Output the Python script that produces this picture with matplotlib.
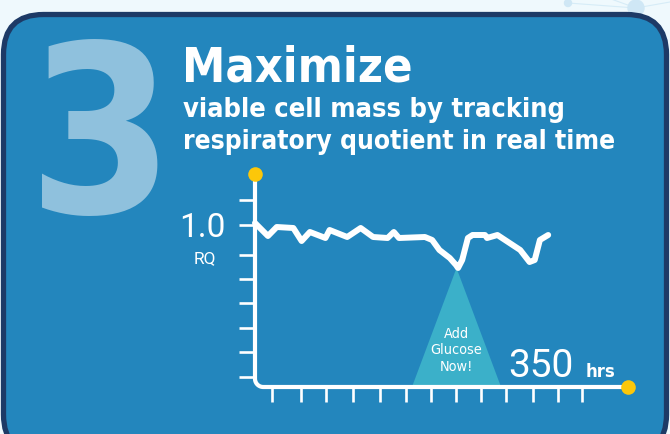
import numpy as np
import matplotlib
matplotlib.use("Agg")
import matplotlib.pyplot as plt
from matplotlib.patches import FancyBboxPatch, Polygon, Circle

# ---------------- data ----------------
hours = [0, 12.5, 21, 37, 45, 53, 68, 72, 89, 102, 114, 128, 134, 139,
         164, 171, 178, 188, 194, 196, 200, 205.5, 210, 222, 224, 234,
         256, 265, 270, 275, 283]
rq = [1.008, 0.956, 0.992, 0.988, 0.936, 0.972, 0.948, 0.98, 0.952, 0.988,
      0.952, 0.948, 0.972, 0.948,
      0.952, 0.94, 0.90, 0.868, 0.84, 0.828, 0.86, 0.948, 0.96, 0.96,
      0.948, 0.96, 0.90, 0.852, 0.86, 0.94, 0.96]
y_ticks = [1.10, 1.00, 0.88, 0.784, 0.688, 0.588, 0.492, 0.392]
x_ticks = [16, 44, 69, 95, 121, 146, 170, 194, 218, 242, 268, 292, 316]
glucose_hour = 194.5
glucose_rq = 0.828
axis_rq = 0.352
axis_top_rq = 1.204
axis_end_hr = 360
title = "Maximize"
subtitle = ["viable cell mass by tracking", "respiratory quotient in real time"]
step_label = "3"
y_label_value = "1.0"
y_label = "RQ"
x_label_value = "350"
x_label_unit = "hrs"
note_lines = ["Add", "Glucose", "Now!"]

# ---------------- colours ----------------
BG = "#eff9fd"
CARD = "#2386bd"
BORDER = "#1d3a66"
BIG3 = "#8fc1dd"
TRI = "#3bb0c9"
YEL = "#fcc70a"
WHITE = "#ffffff"

COND = ["Liberation Sans Narrow", "DejaVu Sans"]
LIGHT = ["Roboto", "DejaVu Sans"]

W, H = 670, 434
fig = plt.figure(figsize=(W / 100, H / 100), dpi=100)
fig.patch.set_facecolor(BG)
renderer = fig.canvas.get_renderer()


def fit_width(t, width):
    w = t.get_window_extent(renderer).width
    t.set_fontsize(t.get_fontsize() * width / w)


# background / decoration axes in pixel coordinates
bg = fig.add_axes([0, 0, 1, 1])
bg.set_xlim(0, W)
bg.set_ylim(H, 0)
bg.axis("off")

# faint network decoration top-right
bg.plot([568, 636, 670], [3, 8, 2], color="#d6ecf7", lw=0.8, zorder=0)
bg.plot([636, 600], [8, -5], color="#d6ecf7", lw=0.8, zorder=0)
bg.add_patch(Circle((568, 3), 3.5, color="#cfe7f5", zorder=0))
bg.add_patch(Circle((636, 8), 8, color="#cfe7f5", zorder=0))

card = FancyBboxPatch((3.5, 14.5), 663, 440, boxstyle="round,pad=0,rounding_size=40",
                      facecolor=CARD, edgecolor=BORDER, linewidth=3.8, zorder=1)
bg.add_patch(card)

t3 = bg.text(101, 213, step_label, color=BIG3, fontsize=168, fontweight="bold",
             family=COND, stretch="condensed", ha="center", va="baseline", zorder=2)
tt = bg.text(182, 81, title, color=WHITE, fontsize=44, fontweight="bold",
             family=COND, stretch="condensed", ha="left", va="baseline", zorder=2)
fit_width(tt, 231)
ts1 = bg.text(183, 117, subtitle[0], color=WHITE, fontsize=21, fontweight="bold",
              family=COND, stretch="condensed", ha="left", va="baseline", zorder=2)
fit_width(ts1, 383)
ts2 = bg.text(183, 149, subtitle[1], color=WHITE, fontsize=21, fontweight="bold",
              family=COND, stretch="condensed", ha="left", va="baseline", zorder=2)
fit_width(ts2, 432)

# data axes: calibrated so that hours / RQ map onto the infographic
ax = fig.add_axes([0, 0, 1, 1])
ax.patch.set_alpha(0)
ax.axis("off")
px_per_hr = 1.036
x0_px = 255
ax.set_xlim(-x0_px / px_per_hr, (W - x0_px) / px_per_hr)
ax.set_ylim(1.0 - (H - 225) / 250, 1.0 + 225 / 250)

# triangle callout
half_base = 43
ax.add_patch(Polygon([(glucose_hour - half_base, axis_rq), (glucose_hour, glucose_rq),
                      (glucose_hour + half_base, axis_rq)], closed=True,
                     facecolor=TRI, edgecolor="none", zorder=2))

# axes with rounded corner
r_hr, r_rq = 8, 8 / 250 * px_per_hr
theta = np.linspace(np.pi, 1.5 * np.pi, 20)
cx, cy = r_hr, axis_rq + r_rq
arc_x = cx + r_hr * np.cos(theta)
arc_y = cy + r_rq * np.sin(theta)
ax_x = np.concatenate([[0], arc_x, [axis_end_hr]])
ax_y = np.concatenate([[axis_top_rq], arc_y, [axis_rq]])
ax.plot(ax_x, ax_y, color=WHITE, lw=3.0, solid_capstyle="round",
        solid_joinstyle="round", zorder=3)

for yt in y_ticks:
    ax.plot([-15.5, 0], [yt, yt], color=WHITE, lw=1.9, solid_capstyle="butt", zorder=3)
for xt in x_ticks:
    ax.plot([xt, xt], [axis_rq, axis_rq - 0.06], color=WHITE, lw=1.9,
            solid_capstyle="butt", zorder=3)

# RQ curve
ax.plot(hours, rq, color=WHITE, lw=4.3, solid_joinstyle="round",
        solid_capstyle="round", zorder=4)

# end dots
ax.plot([0], [axis_top_rq], "o", ms=10.5, color=YEL, mec="none", zorder=5)
ax.plot([axis_end_hr], [axis_rq], "o", ms=10.5, color=YEL, mec="none", zorder=5)

# overlay text axes (pixel coords)
tx = fig.add_axes([0, 0, 1, 1])
tx.patch.set_alpha(0)
tx.set_xlim(0, W)
tx.set_ylim(H, 0)
tx.axis("off")

for i, line in enumerate(note_lines):
    tn = tx.text(456, 338 + i * 16.5, line, color=WHITE, fontsize=10.5, family=COND,
                 stretch="condensed", ha="center", va="baseline")
    if line == "Glucose":
        fit_width(tn, 52)
        gs = tn.get_fontsize()
for t in tx.texts:
    t.set_fontsize(gs)

tx.text(226, 237, y_label_value, color=WHITE, fontsize=24, family=LIGHT,
        fontweight="normal", ha="right", va="baseline")
tx.text(205, 263, y_label, color=WHITE, fontsize=12.5, family=LIGHT,
        ha="center", va="baseline")
tx.text(508, 377, x_label_value, color=WHITE, fontsize=28, family=LIGHT,
        fontweight="normal", ha="left", va="baseline")
thrs = tx.text(586, 377, x_label_unit, color=WHITE, fontsize=15, family=COND,
               stretch="condensed", fontweight="bold", ha="left", va="baseline")
fit_width(thrs, 30)

fig.savefig("out.png", dpi=100, facecolor=BG)
